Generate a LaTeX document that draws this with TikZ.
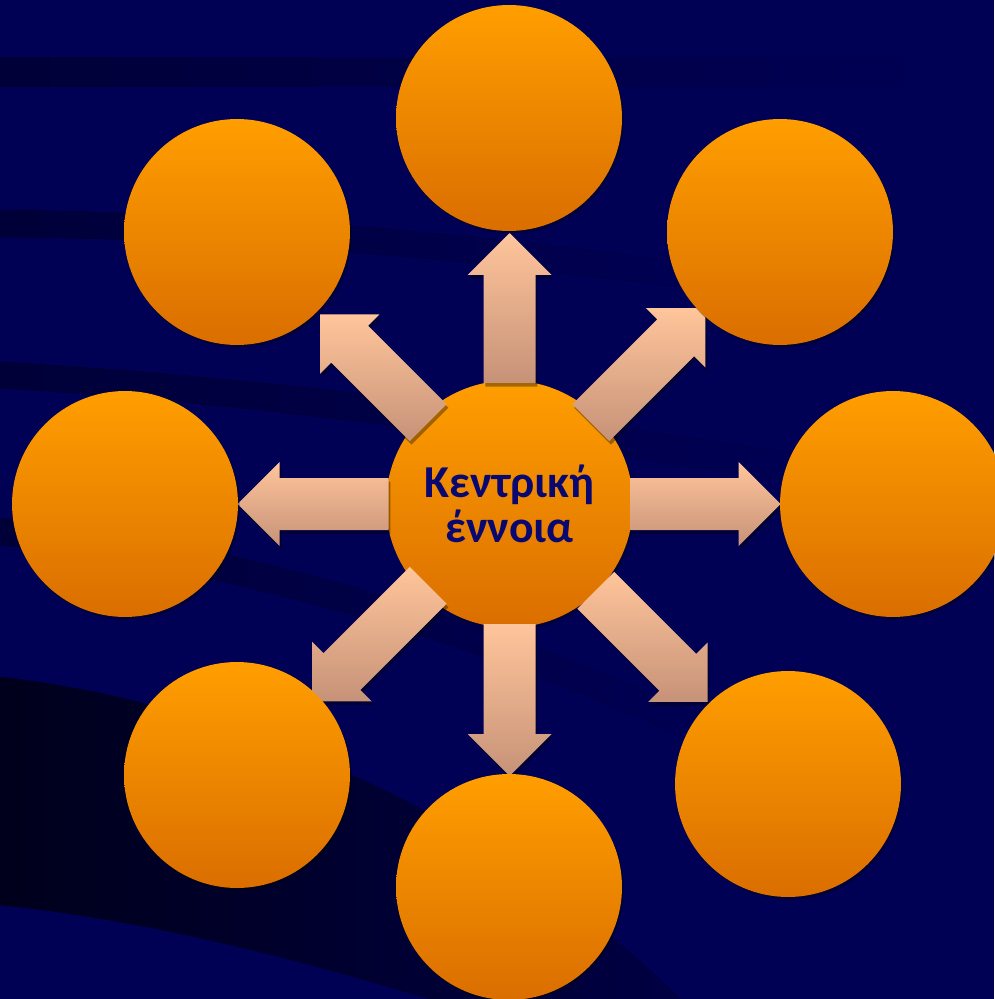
\documentclass[tikz,border=0pt]{standalone}
\usepackage{fontspec}
\setmainfont{Carlito}
\usetikzlibrary{calc,shadows}
\definecolor{bg}{RGB}{0,0,84}
\definecolor{band}{RGB}{0,0,56}
\definecolor{core}{RGB}{0,0,28}
\definecolor{otop}{RGB}{255,158,0}
\definecolor{obot}{RGB}{218,110,0}
\definecolor{atop}{RGB}{255,197,155}
\definecolor{abot}{RGB}{198,146,120}
\definecolor{txt}{RGB}{8,8,112}
\tikzset{
  bubble/.style={circle, inner sep=0pt, minimum size=4.52cm,
    top color=otop, bottom color=obot,
    drop shadow={shadow xshift=1pt, shadow yshift=-1.5pt, opacity=0.3, fill=black}},
  hub/.style={bubble, minimum size=4.94cm, text=txt,
    font=\bfseries\fontsize{26}{26}\selectfont, align=center},
  blockarr/.style={top color=atop, bottom color=abot,
    drop shadow={shadow xshift=1pt, shadow yshift=-2pt, opacity=0.35, fill=black}},
}
% #1 angle, #2 start distance, #3 tip distance (from hub centre)
\newcommand\blockarrow[3]{%
  \path[blockarr]
    ($(c)+(#1:#2)+({#1+90}:26)$) --
    ($(c)+(#1:#3-42)+({#1+90}:26)$) --
    ($(c)+(#1:#3-42)+({#1+90}:42)$) --
    ($(c)+(#1:#3)$) --
    ($(c)+(#1:#3-42)+({#1-90}:42)$) --
    ($(c)+(#1:#3-42)+({#1-90}:26)$) --
    ($(c)+(#1:#2)+({#1-90}:26)$) -- cycle;}
\begin{document}
\begin{tikzpicture}[x=0.02cm,y=-0.02cm]
\useasboundingbox (0,0) rectangle (994,999);
% background
\fill[bg] (0,0) rectangle (994,999);
\fill[left color=band, middle color=band!80!bg, right color=bg]
  (0,58) rectangle (920,87);
\fill[left color=band, middle color=band, right color=bg]
  (0,210) .. controls (300,214) and (500,238) .. (720,268) --
  (720,292) .. controls (500,264) and (300,240) .. (0,237) -- cycle;
\fill[left color=band, middle color=band, right color=bg]
  (0,362) .. controls (250,376) and (500,408) .. (820,458) --
  (820,486) .. controls (500,436) and (250,404) .. (0,388) -- cycle;
\fill[left color=band, middle color=band, right color=bg]
  (0,518) .. controls (200,538) and (450,598) .. (730,730) --
  (730,758) .. controls (450,626) and (200,566) .. (0,545) -- cycle;
\fill[left color=core, middle color=band, right color=band!60!bg]
  (0,677) .. controls (200,700) and (470,790) .. (680,999) --
  (430,999) .. controls (300,960) and (150,920) .. (0,905) -- cycle;
% hub
\node[hub] (c) at (509.5,504) {Κεντρική\\έννοια};
% arrows
\blockarrow{-90}{121}{271}
\blockarrow{90}{120}{272}
\blockarrow{0}{121}{271}
\blockarrow{180}{121}{272}
\blockarrow{-45}{115}{277}
\blockarrow{-135}{115}{268}
\blockarrow{135}{115}{279}
\blockarrow{45}{122}{280}
% outer bubbles
\node[bubble] (n1) at (509,118) {};
\node[bubble] (n2) at (780,232) {};
\node[bubble] (n3) at (893,504) {};
\node[bubble] (n4) at (788,784) {};
\node[bubble] (n5) at (509,887) {};
\node[bubble] (n6) at (237,775) {};
\node[bubble] (n7) at (125,504) {};
\node[bubble] (n8) at (237,232) {};
\end{tikzpicture}
\end{document}
